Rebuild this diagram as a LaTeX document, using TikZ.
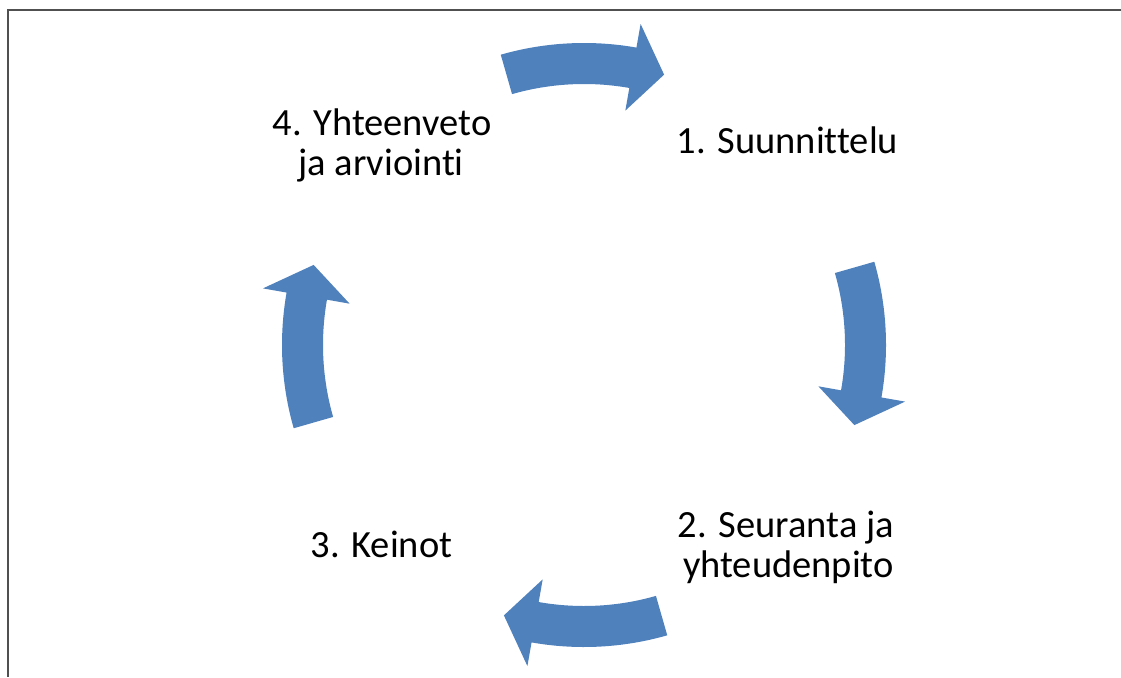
\documentclass[tikz,border=0pt]{standalone}
\usepackage{fontspec}
\setmainfont{Carlito}[Ligatures={NoCommon}]
\definecolor{arrowblue}{HTML}{4F81BD}
\definecolor{framegray}{HTML}{505050}
\begin{document}
\begin{tikzpicture}[x=1pt,y=-1pt,
  lbl/.style={anchor=base,inner sep=0pt,align=center,font=\fontsize{38.5}{40}\selectfont},
  cyclearrow/.style={fill=arrowblue,draw=none}]
\useasboundingbox (0,0) rectangle (1121,677);
\fill[white] (0,0) rectangle (1121,677);
% frame
\coordinate (ftl) at (8,10);
\coordinate (ftr) at (1121,10);
\coordinate (fbl) at (8,677);
\draw[framegray,line width=1.6pt] (ftr) -- (ftl) -- (fbl);
% arrows
\begin{scope}[shift={(584,345)},yscale=-1]
\foreach \c in {90,0,-90,180}{
  \fill[cyclearrow] (\c+16:302) arc[start angle=\c+16,end angle=\c-10,radius=302]
    -- (\c-10:326) -- (\c-16.5:282) -- (\c-10:238) -- (\c-10:261)
    arc[start angle=\c-10,end angle=\c+16,radius=261] -- cycle;
}
\end{scope}
% labels
\node[lbl] (s4a) at (382,135) {4. Yhteenveto};
\node[lbl] (s4b) at (381,175) {ja arviointi};
\node[lbl] (s1) at (787.5,153) {1. Suunnittelu};
\node[lbl] (s2a) at (786,537) {2. Seuranta ja};
\node[lbl] (s2b) at (788.5,577) {yhteudenpito};
\node[lbl] (s3) at (381.5,557) {3. Keinot};
\end{tikzpicture}
\end{document}
